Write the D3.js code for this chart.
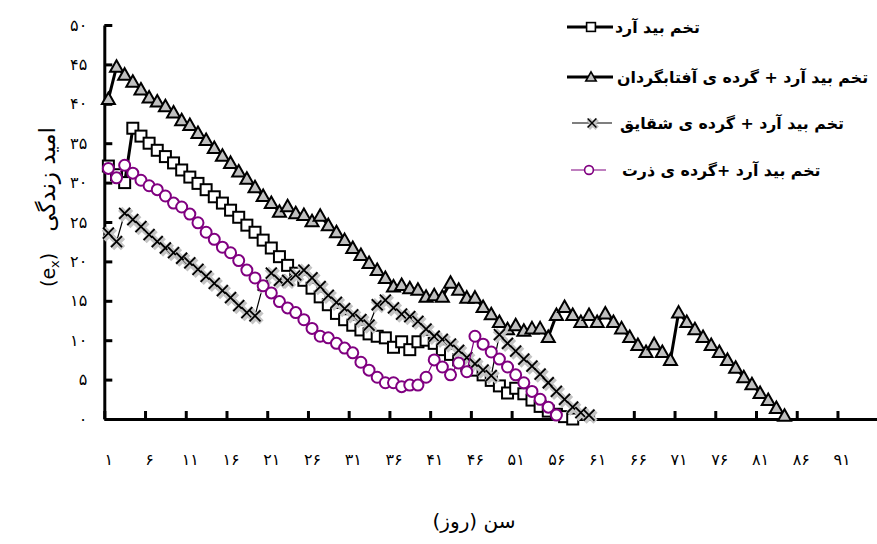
<!DOCTYPE html>
<html>
<head>
<meta charset="utf-8">
<script src="https://cdn.jsdelivr.net/npm/d3@7"></script>
<style>
  html, body { margin: 0; padding: 0; background: #fff; }
  svg { display: block; }
  text { font-family: "DejaVu Sans", sans-serif; fill: #000; }
</style>
</head>
<body>
<script>
// Life expectancy (e_x) by age in days, four diets
const seriesNames = [
  "تخم بید آرد",
  "تخم بید آرد + گرده ی آفتابگردان",
  "تخم بید آرد + گرده ی شقایق",
  "تخم بید آرد +گرده ی ذرت"
];

// flour moth eggs only
const flourEgg = [
  32.1, 31.0, 30.0, 36.9, 35.9, 35.0, 34.1, 33.3, 32.5, 31.6,
  30.7, 29.9, 29.1, 28.2, 27.4, 26.5, 25.6, 24.6, 23.7, 22.7,
  21.7, 20.6, 19.5, 18.5, 17.6, 16.6, 15.5, 14.5, 13.4, 12.6,
  11.9, 11.3, 10.8, 10.5, 10.3, 9.1, 9.8, 8.8, 9.8, 10.0,
  9.6, 8.8, 8.2, 7.5, 6.8, 6.2, 5.6, 4.9, 4.2, 3.3,
  3.9, 3.2, 2.4, 1.6, 1.0, 0.6, 0.3, 0.0
];

// eggs + sunflower pollen
const sunflower = [
  40.6, 44.7, 43.7, 42.8, 41.8, 40.8, 40.3, 39.7, 38.9, 37.9,
  37.3, 36.3, 35.4, 34.4, 33.4, 32.5, 31.4, 30.5, 29.4, 28.3,
  27.4, 26.3, 27.0, 26.1, 25.9, 25.1, 25.8, 24.6, 23.7, 22.7,
  21.7, 20.8, 19.8, 18.9, 17.9, 16.8, 17.0, 16.6, 16.4, 15.5,
  15.7, 15.5, 17.3, 16.4, 15.4, 15.4, 14.2, 13.3, 12.3, 11.4,
  11.9, 11.2, 11.5, 11.5, 10.4, 13.2, 14.2, 13.2, 12.3, 13.2,
  12.3, 13.4, 12.3, 11.5, 10.4, 9.4, 8.5, 9.5, 8.5, 7.5,
  13.5, 12.3, 11.4, 10.4, 9.4, 8.5, 7.5, 6.5, 5.3, 4.4,
  3.3, 2.4, 1.4, 0.4
];

// eggs + poppy pollen
const poppy = [
  23.6, 22.5, 26.1, 25.3, 24.4, 23.4, 22.5, 21.7, 21.1, 20.4,
  19.8, 19.0, 18.1, 17.2, 16.3, 15.4, 14.4, 13.5, 13.1, 17.0,
  18.5, 17.6, 17.6, 18.3, 18.9, 17.9, 16.8, 15.7, 14.8, 14.0,
  13.2, 12.6, 11.9, 14.5, 15.1, 14.1, 13.3, 13.0, 12.4, 11.4,
  10.5, 10.1, 9.5, 8.7, 7.8, 7.0, 6.2, 5.5, 10.7, 9.6,
  8.6, 7.6, 6.7, 5.7, 4.6, 3.5, 2.5, 1.5, 0.8, 0.5
];

// eggs + corn pollen
const corn = [
  31.8, 30.6, 32.2, 31.2, 30.3, 29.6, 29.1, 28.3, 27.4, 26.9,
  26.0, 24.9, 23.7, 22.8, 21.8, 21.1, 20.1, 18.9, 17.9, 16.9,
  16.0, 14.9, 14.1, 13.5, 12.6, 11.5, 10.5, 10.3, 9.6, 9.0,
  8.4, 7.2, 6.2, 5.3, 4.6, 4.6, 4.1, 4.3, 4.3, 5.3,
  7.5, 6.6, 5.6, 7.1, 6.0, 10.5, 9.5, 8.5, 7.6, 6.6,
  5.6, 4.6, 3.5, 2.5, 1.5, 0.5
];

const dayCount = 95;                       // categories on the age axis
const dayTicks = d3.range(1, 92, 5);       // 1, 6, ..., 91
const yTicks = d3.range(0, 51, 5);         // 0 .. 50
const yTitle = "امید زندگی";
const xTitle = "سن (روز)";

const fa = v => String(v).replace(/\d/g, d => "۰۱۲۳۴۵۶۷۸۹"[d]);

const W = 877, H = 544;
const svg = d3.select("body").append("svg").attr("width", W).attr("height", H);

const x = d3.scaleLinear().domain([0, dayCount]).range([104.3, 878.2]);
const cx = day => x(day - 0.5);
const y = d3.scaleLinear().domain([0, 50]).range([419, 25]);

// ---- axes ----
const yAxis = svg.append("g").attr("transform", `translate(${x(0)},0)`)
  .call(d3.axisLeft(y).tickValues(yTicks).tickSize(-8).tickSizeOuter(0)
        .tickPadding(17).tickFormat(fa));
yAxis.select(".domain").attr("stroke", "#000").attr("stroke-width", 3);
yAxis.selectAll(".tick line").attr("stroke", "#000").attr("stroke-width", 3);
yAxis.selectAll(".tick text").attr("font-size", 16).attr("font-family", "DejaVu Sans");

const xAxis = svg.append("g").attr("transform", `translate(0,${y(0)})`)
  .call(d3.axisBottom(x).tickValues(d3.range(0, dayCount + 1, 5)).tickSize(-8)
        .tickSizeOuter(0).tickFormat(""));
xAxis.select(".domain").attr("stroke", "#000").attr("stroke-width", 3);
xAxis.selectAll(".tick line").attr("stroke", "#000").attr("stroke-width", 3);

const xLabels = svg.append("g").attr("transform", `translate(0,${y(0)})`)
  .call(d3.axisBottom(d3.scaleLinear().domain([0.5, dayCount + 0.5]).range([x(0), x(dayCount)]))
        .tickValues(dayTicks).tickSize(0).tickPadding(35).tickFormat(fa));
xLabels.select(".domain").remove();
xLabels.selectAll(".tick text").attr("font-size", 16).attr("font-family", "DejaVu Sans");

// ---- axis titles ----
const yt = svg.append("g").attr("transform", "translate(55,207) rotate(-90)");
yt.append("text").attr("x", 80).attr("text-anchor", "end").attr("font-size", 23).text(yTitle);
const ex = yt.append("text").attr("x", -80).attr("text-anchor", "start")
  .attr("font-size", 19).attr("font-family", "Liberation Serif");
ex.append("tspan").text("(e");
ex.append("tspan").attr("font-size", 13).attr("dy", 4).text("x");
ex.append("tspan").attr("dy", -4).text(")");

svg.append("text").attr("x", 474).attr("y", 528).attr("text-anchor", "middle")
  .attr("font-size", 20).text(xTitle);

// ---- markers ----
const markers = {
  square: (g) => g.append("rect").attr("x", -5.5).attr("y", -5.5).attr("width", 11).attr("height", 11)
    .attr("fill", "#fff").attr("stroke", "#000").attr("stroke-width", 2),
  triangle: (g) => g.append("path").attr("d", "M0,-6.5L6.5,5L-6.5,5Z")
    .attr("fill", "#c0c0c0").attr("stroke", "#000").attr("stroke-width", 2).attr("stroke-linejoin", "miter"),
  cross: (g) => {
    g.append("path").attr("d", "M-5,-5L6,6M6,-5L-5,6").attr("stroke", "#c4c4c4")
      .attr("stroke-width", 6).attr("transform", "translate(0.5,0.5)");
    g.append("path").attr("d", "M-5.5,-5.5L5.5,5.5M5.5,-5.5L-5.5,5.5").attr("stroke", "#000").attr("stroke-width", 1.8);
  },
  circle: (g) => g.append("circle").attr("r", 5.5).attr("fill", "#fff")
    .attr("stroke", "#800080").attr("stroke-width", 2)
};

const series = [
  { values: flourEgg,  color: "#000",    width: 3,   marker: "square" },
  { values: sunflower, color: "#000",    width: 3,   marker: "triangle" },
  { values: poppy,     color: "#000",    width: 1.2, marker: "cross" },
  { values: corn,      color: "#800080", width: 1.2, marker: "circle" }
];

const line = d3.line().x((d, i) => cx(i + 1)).y(d => y(d));

series.forEach(s => {
  const g = svg.append("g");
  g.append("path").datum(s.values).attr("d", line)
    .attr("fill", "none").attr("stroke", s.color).attr("stroke-width", s.width);
  g.selectAll("g.m").data(s.values).join("g").attr("class", "m")
    .attr("transform", (d, i) => `translate(${cx(i + 1)},${y(d)})`)
    .each(function () { markers[s.marker](d3.select(this)); });
});

// ---- legend ----
const legendRows = [
  { y: 27,  x1: 567, x2: 613, mx: 591, tx: 615 },
  { y: 77,  x1: 567, x2: 613, mx: 591, tx: 617 },
  { y: 123, x1: 572, x2: 612, mx: 592, tx: 620 },
  { y: 170, x1: 571, x2: 606, mx: 589, tx: 622 }
];
legendRows.forEach((r, i) => {
  const s = series[i];
  const g = svg.append("g");
  g.append("line").attr("x1", r.x1).attr("x2", r.x2).attr("y1", r.y).attr("y2", r.y)
    .attr("stroke", s.color).attr("stroke-width", s.width);
  const m = g.append("g").attr("transform", `translate(${r.mx},${r.y}) scale(0.8)`);
  markers[s.marker](m);
  g.append("text").attr("x", r.tx).attr("y", r.y + 6).attr("font-size", 15.8)
    .attr("font-weight", "bold").text(seriesNames[i]);
});
</script>
</body>
</html>
